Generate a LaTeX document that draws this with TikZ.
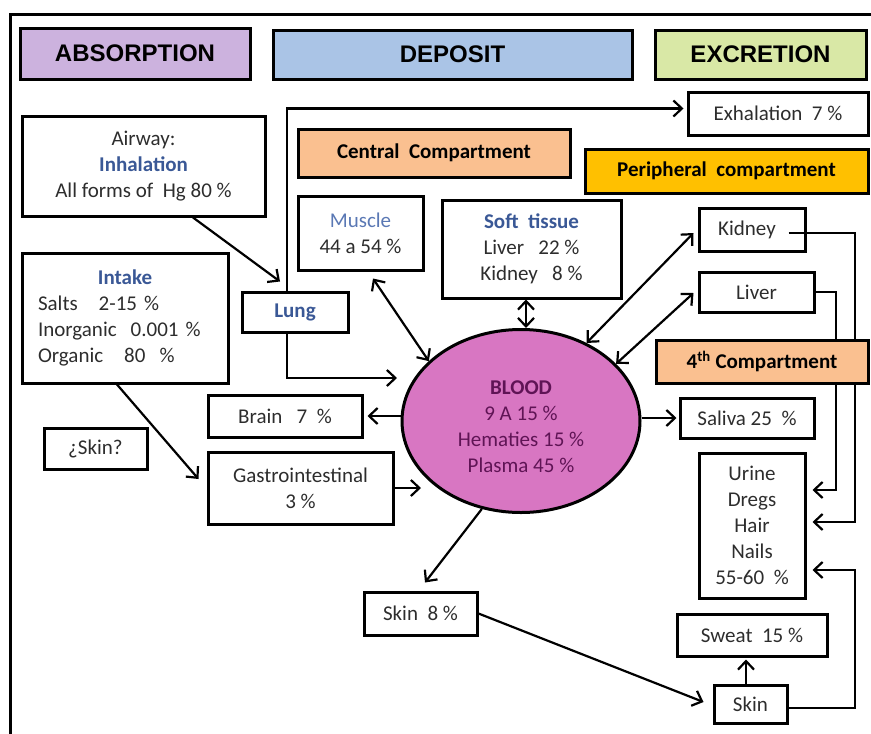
\documentclass[tikz,border=0pt]{standalone}
\usepackage{fontspec}
\setmainfont{Carlito}
\newfontfamily\hdrfont{Liberation Sans}
\usetikzlibrary{arrows.meta,shapes.geometric,calc}
\pgfdeclarelayer{bg}
\pgfsetlayers{bg,main}
\definecolor{absc}{RGB}{204,178,222}
\definecolor{depc}{RGB}{170,196,230}
\definecolor{excc}{RGB}{217,232,166}
\definecolor{orc}{RGB}{250,192,144}
\definecolor{perc}{RGB}{255,192,0}
\definecolor{bloodc}{RGB}{216,118,194}
\definecolor{txt}{RGB}{45,45,45}
\definecolor{bluet}{RGB}{58,88,150}
\definecolor{lbluet}{RGB}{90,120,180}
\definecolor{bloodt}{RGB}{95,20,85}
\begin{document}
\begin{tikzpicture}[x=1pt,y=-1pt,
  box/.style={draw=black, line width=3pt, inner sep=0pt, align=center, text=txt,
    font=\fontsize{21}{26}\selectfont},
  hdr/.style={box, font=\hdrfont\bfseries\fontsize{24}{28}\selectfont, text=black},
  arr/.style={line width=2.2pt, -{Straight Barb[length=8.5pt,width=16pt]}},
  dbl/.style={line width=2.2pt, {Straight Barb[length=8.5pt,width=16pt]}-{Straight Barb[length=8.5pt,width=16pt]}}]
\useasboundingbox (0,0) rectangle (871,734);
% outer frame
\draw[line width=3pt] (10,734) -- (10,14) -- (871,14);

% headers
\node[hdr, fill=absc, minimum width=230pt, minimum height=51pt] (absorb) at (135,53.5) {ABSORPTION};
\node[hdr, fill=depc, minimum width=359pt, minimum height=49pt] (deposit) at (452.5,54.5) {DEPOSIT};
\node[hdr, fill=excc, minimum width=211pt, minimum height=49pt] (excr) at (760.5,54.5) {EXCRETION};

% boxes
\node[box, minimum width=180pt, minimum height=43pt] (exhal) at (778,113.5) {Exhalation~~7~\%};
\node[box, minimum width=243pt, minimum height=100pt] (airway) at (143.5,166)
  {Airway:\\ \textcolor{bluet}{\bfseries Inhalation}\\ All forms of~~Hg 80 \%};
\node[box, fill=orc, minimum width=272pt, minimum height=48pt, text=black] (central) at (434,153) {\bfseries Central~~Compartment};
\node[box, fill=perc, minimum width=283pt, minimum height=44pt, text=black] (periph) at (726.5,171) {\bfseries Peripheral~~compartment};
\node[box, minimum width=125pt, minimum height=74pt] (muscle) at (360.5,233) {\textcolor{lbluet}{Muscle}\\44 a 54 \%};
\node[box, minimum width=179pt, minimum height=98pt] (soft) at (531.5,249)
  {\textcolor{bluet}{\bfseries Soft~~tissue}\\Liver~~~22 \%\\Kidney~~~8 \%};
\node[box, minimum width=106pt, minimum height=43pt] (kidney) at (752,229.5) {Kidney\hspace{10pt}};
\node[box, minimum width=115pt, minimum height=40pt] (liver) at (756.5,292) {Liver};
\node[box, minimum width=206pt, minimum height=130pt, text width=174pt, align=left] (intake) at (125,318)
  {\makebox[174pt]{\textcolor{bluet}{\bfseries Intake}}\\Salts~~~2-15 \%\\Inorganic~~0.001 \%\\Organic~~~80~~\%};
\node[box, minimum width=106pt, minimum height=40pt] (lung) at (295,312) {\textcolor{bluet}{\bfseries Lung}};
\node[box, fill=orc, minimum width=212pt, minimum height=43pt, text=black] (fourth) at (762,361.5) {\bfseries 4\textsuperscript{th} Compartment};
\node[ellipse, draw=black, line width=3pt, fill=bloodc, minimum width=238pt, minimum height=183pt,
  inner sep=0pt, align=center, text=bloodt, font=\fontsize{21}{26}\selectfont] (blood) at (521,421)
  {\rule{0pt}{26pt}\bfseries BLOOD\\9 A 15 \%\\Hematies 15 \%\\Plasma 45 \%};
\node[box, minimum width=154pt, minimum height=42pt] (brain) at (285,416) {Brain~~~7~~\%};
\node[box, minimum width=103pt, minimum height=41pt] (skinq) at (95.5,448.5) {¿Skin?};
\node[box, minimum width=185pt, minimum height=72pt] (gastro) at (300.5,488) {Gastrointestinal\\3 \%};
\node[box, minimum width=134pt, minimum height=40pt] (saliva) at (747,418) {Saliva 25~~\%};
\node[box, minimum width=106pt, minimum height=145pt] (urine) at (752,525.5) {Urine\\Dregs\\Hair\\Nails\\55-60~~\%};
\node[box, minimum width=113pt, minimum height=43pt] (skin8) at (420.5,613.5) {Skin~~8 \%};
\node[box, minimum width=150pt, minimum height=42pt] (sweat) at (752,635) {Sweat~~15 \%};
\node[box, minimum width=73pt, minimum height=38pt] (skinb) at (750.5,704) {Skin};

% helper coordinates
\coordinate (ltip) at (397,378);
\coordinate (gtip) at (421,488);
\coordinate (rx) at (855,0);
\coordinate (rx2) at (836,0);
\coordinate (u1) at ([xshift=6pt,yshift=3.5pt]urine.east);
\coordinate (u2) at ([xshift=6pt,yshift=35.5pt]urine.east);
\coordinate (u3) at ([xshift=6pt,yshift=-44.5pt]urine.east);

\begin{pgfonlayer}{bg}
\draw[arr] ([xshift=49.5pt]airway.south) -- ([xshift=-15pt,yshift=9pt]lung.north);
\draw[arr] ([xshift=-8pt]lung.north) |- ([yshift=5pt,xshift=-3pt]exhal.west);
\draw[arr] ([xshift=-8pt]lung.south) |- (ltip);
\draw[arr] ([xshift=-8pt]intake.south) -- ([xshift=-8pt,yshift=9pt]gastro.west);
\draw[arr] (gastro.east) -- (gtip);
\draw[dbl] ([xshift=12.5pt,yshift=-7pt]muscle.south) -- (blood.147);
\draw[dbl] ([xshift=-5.5pt]soft.south) -- ([xshift=-5.5pt]soft.south |- blood.north);
\draw[dbl] (blood.50) -- ([xshift=-4pt,yshift=-3.5pt]kidney.west);
\draw[dbl] (blood.31) -- ([xshift=-4pt,yshift=-1pt]liver.west);
\draw[arr] (blood.west |- brain.east) -- ([xshift=4pt]brain.east);
\draw[arr] (blood.east |- saliva.west) -- ([xshift=-2pt]saliva.west);
\draw[arr] (blood.246) -- ([xshift=4.5pt,yshift=8pt]skin8.north);
\draw[arr] (skin8.east) -- ([xshift=-9pt,yshift=2pt]skinb.west);
\draw[arr] ([xshift=-4.5pt]skinb.north) -- ([xshift=-6pt,yshift=-2pt]sweat.south);
\draw[arr] ([xshift=-18pt,yshift=-3.5pt]kidney.east) -| (rx |- u1) -- (u1);
\draw[arr] (liver.east) -| (rx2 |- u2) -- (u2);
\draw[arr] ([yshift=-4pt]skinb.east) -| (rx |- u3) -- (u3);
\end{pgfonlayer}
\end{tikzpicture}
\end{document}
